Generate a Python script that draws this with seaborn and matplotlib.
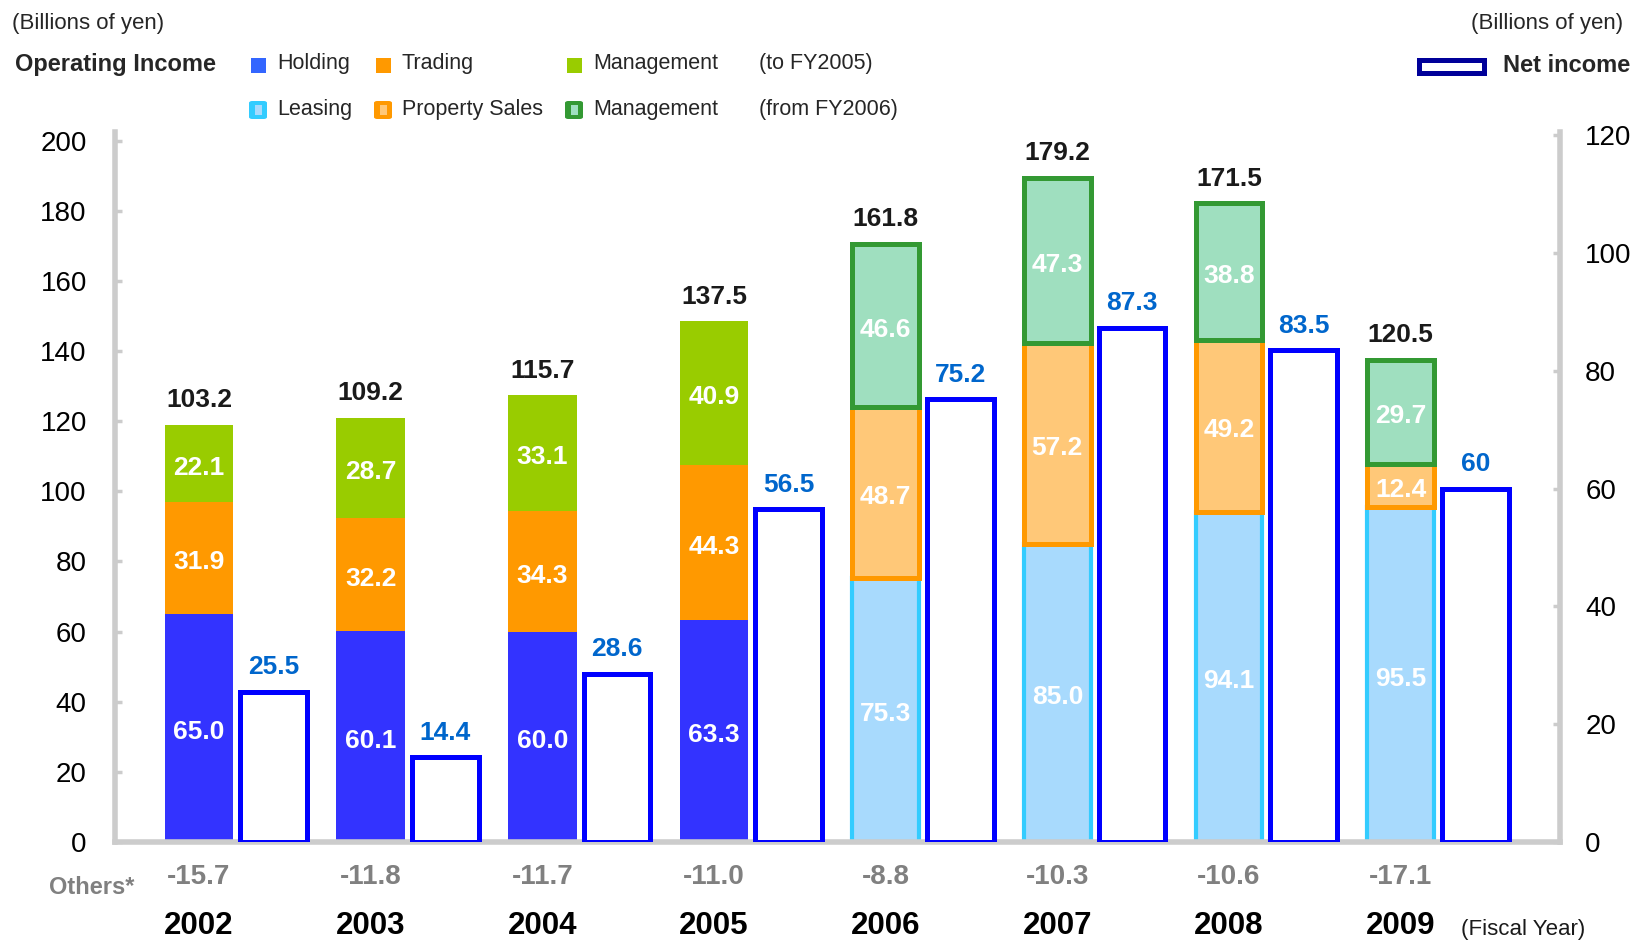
import matplotlib
matplotlib.use("Agg")
import matplotlib.pyplot as plt
from matplotlib.patches import Rectangle, FancyBboxPatch
import seaborn as sns

sns.set_style("white")
plt.rcParams["font.family"] = ["Liberation Sans", "DejaVu Sans"]

# ---- data (billions of yen) ----
years = ["2002", "2003", "2004", "2005", "2006", "2007", "2008", "2009"]
# to FY2005
holding = [65.0, 60.1, 60.0, 63.3]
trading = [31.9, 32.2, 34.3, 44.3]
mgmt_old = [22.1, 28.7, 33.1, 40.9]
# from FY2006
leasing = [75.3, 85.0, 94.1, 95.5]
prop_sales = [48.7, 57.2, 49.2, 12.4]
mgmt_new = [46.6, 47.3, 38.8, 29.7]

op_income = [103.2, 109.2, 115.7, 137.5, 161.8, 179.2, 171.5, 120.5]
others = [-15.7, -11.8, -11.7, -11.0, -8.8, -10.3, -10.6, -17.1]
net_income = [25.5, 14.4, 28.6, 56.5, 75.2, 87.3, 83.5, 60]

W, H = 1634, 941
fig = plt.figure(figsize=(W / 100, H / 100), dpi=100)
ax = fig.add_axes([0.0701, 0.1052, 0.8847, 0.7542])
ax2 = ax.twinx()


def fx(px):
    return px / W


def fy(py):
    return 1 - py / H


def stack(xs, layers, width):
    bottom = [0.0] * len(xs)
    for vals, face, edge, lw in layers:
        sns.barplot(x=xs, y=vals, bottom=bottom, native_scale=True, orient="x",
                    width=width, color=face, edgecolor=edge, linewidth=lw,
                    saturation=1, errorbar=None, ax=ax)
        for x, b, v in zip(xs, bottom, vals):
            ax.annotate(f"{v:.1f}", xy=(x, b + v / 2), xytext=(0, -3),
                        textcoords="offset points", ha="center", va="center",
                        color="white", fontsize=19, fontweight="bold", zorder=5)
        bottom = [b + v for b, v in zip(bottom, vals)]
    return bottom


old_x = [0.0, 1.0, 2.0, 3.0]
new_x = [4.0, 5.0, 6.0, 7.0]
net_x = [i + 0.435 for i in range(8)]

tops = stack(old_x, [(holding, "#3333ff", "#3333ff", 0),
                     (trading, "#ff9900", "#ff9900", 0),
                     (mgmt_old, "#99cc00", "#99cc00", 0)], 0.40)
tops += stack(new_x, [(leasing, "#a8dafd", "#33ccff", 3.0),
                      (prop_sales, "#ffc878", "#ff9900", 3.6),
                      (mgmt_new, "#9fdfbf", "#339933", 3.6)], 0.39)

for x, t, v in zip(old_x + new_x, tops, op_income):
    ax.annotate(f"{v:.1f}", xy=(x, t), xytext=(0, 9), textcoords="offset points",
                ha="center", va="bottom", fontsize=19, fontweight="bold",
                color="#1a1a1a")

# net income on the right axis
sns.barplot(x=net_x, y=net_income, native_scale=True, orient="x", width=0.39,
            color="white", edgecolor="#0000ff", linewidth=3.6, saturation=1,
            errorbar=None, ax=ax2)
for x, v in zip(net_x, net_income):
    ax2.annotate(f"{v:g}", xy=(x, v), xytext=(0, 9), textcoords="offset points",
                 ha="center", va="bottom", fontsize=19, fontweight="bold",
                 color="#0066cc")

# axes styling
ax.set_xlim(-0.492, 7.929)
ax.set_ylim(0, 202.4)
ax2.set_ylim(0, 120.5)
ax.set_yticks(range(0, 201, 20))
ax2.set_yticks(range(0, 121, 20))
ax.set_xticks([])
ax2.set_xticks([])
for a in (ax, ax2):
    a.set_xlabel("")
    a.set_ylabel("")
    for s in a.spines.values():
        s.set_visible(False)
        s.set_color("#cccccc")
        s.set_linewidth(4)
ax.spines["left"].set_visible(True)
ax.spines["bottom"].set_visible(True)
ax2.spines["right"].set_visible(True)
ax.tick_params(axis="y", direction="in", length=5, width=2.5, color="#cccccc",
               pad=20, labelsize=20, labelcolor="black")
ax2.tick_params(axis="y", direction="in", length=5, width=2.5, color="#cccccc",
                pad=18, labelsize=20, labelcolor="black")

# bottom rows: others and years
xt = ax.get_xaxis_transform()
for x, o, y in zip(old_x + new_x, others, years):
    ax.text(x, -0.05, f"{o:.1f}", transform=xt, ha="center", va="center",
            fontsize=20, fontweight="bold", color="#808080")
    ax.text(x, -0.1296, y, transform=xt, ha="center", va="baseline",
            fontsize=22.5, fontweight="bold", color="black")
fig.text(fx(92), fy(887), "Others*", ha="center", va="center", fontsize=17,
         fontweight="bold", color="#808080")
fig.text(fx(1461), fy(929), "(Fiscal Year)", ha="left", va="center",
         fontsize=16, color="#1a1a1a")

# header / legend
fig.text(fx(12), fy(23), "(Billions of yen)", ha="left", va="center", fontsize=16)
fig.text(fx(1623), fy(23), "(Billions of yen)", ha="right", va="center", fontsize=16)
fig.text(fx(15), fy(65), "Operating Income", ha="left", va="center",
         fontsize=17, fontweight="bold")

row1 = [(258, "#3366ff", "Holding"), (383, "#ff9900", "Trading"),
        (574, "#99cc00", "Management")]
for cx, c, lab in row1:
    fig.add_artist(Rectangle((fx(cx - 7.5), fy(65 + 7.5)), 15 / W, 15 / H,
                             transform=fig.transFigure, color=c, lw=0))
    fig.text(fx(cx + 19), fy(64), lab, ha="left", va="center", fontsize=15.5)
fig.text(fx(759), fy(64), "(to FY2005)", ha="left", va="center", fontsize=15.5)

row2 = [(258, "#33ccff", "#a8dafd", "Leasing"),
        (383, "#ff9900", "#ffc878", "Property Sales"),
        (574, "#339933", "#9fdfbf", "Management")]
for cx, c, inner, lab in row2:
    fig.add_artist(FancyBboxPatch((fx(cx - 9), fy(110 + 9)), 18 / W, 18 / H,
                                  boxstyle="round,pad=0,rounding_size=0.002",
                                  transform=fig.transFigure, color=c, lw=0))
    fig.add_artist(Rectangle((fx(cx - 3.5), fy(110 + 5)), 7 / W, 10 / H,
                             transform=fig.transFigure, color=inner, lw=0))
    fig.text(fx(cx + 19), fy(109), lab, ha="left", va="center", fontsize=15.5)
fig.text(fx(759), fy(110), "(from FY2006)", ha="left", va="center", fontsize=15.5)

fig.add_artist(Rectangle((fx(1419), fy(73)), 65 / W, 13 / H,
                         transform=fig.transFigure, facecolor="white",
                         edgecolor="#000099", lw=3.6))
fig.text(fx(1503), fy(65), "Net income", ha="left", va="center",
         fontsize=17, fontweight="bold")

fig.savefig("out.png", dpi=100)
